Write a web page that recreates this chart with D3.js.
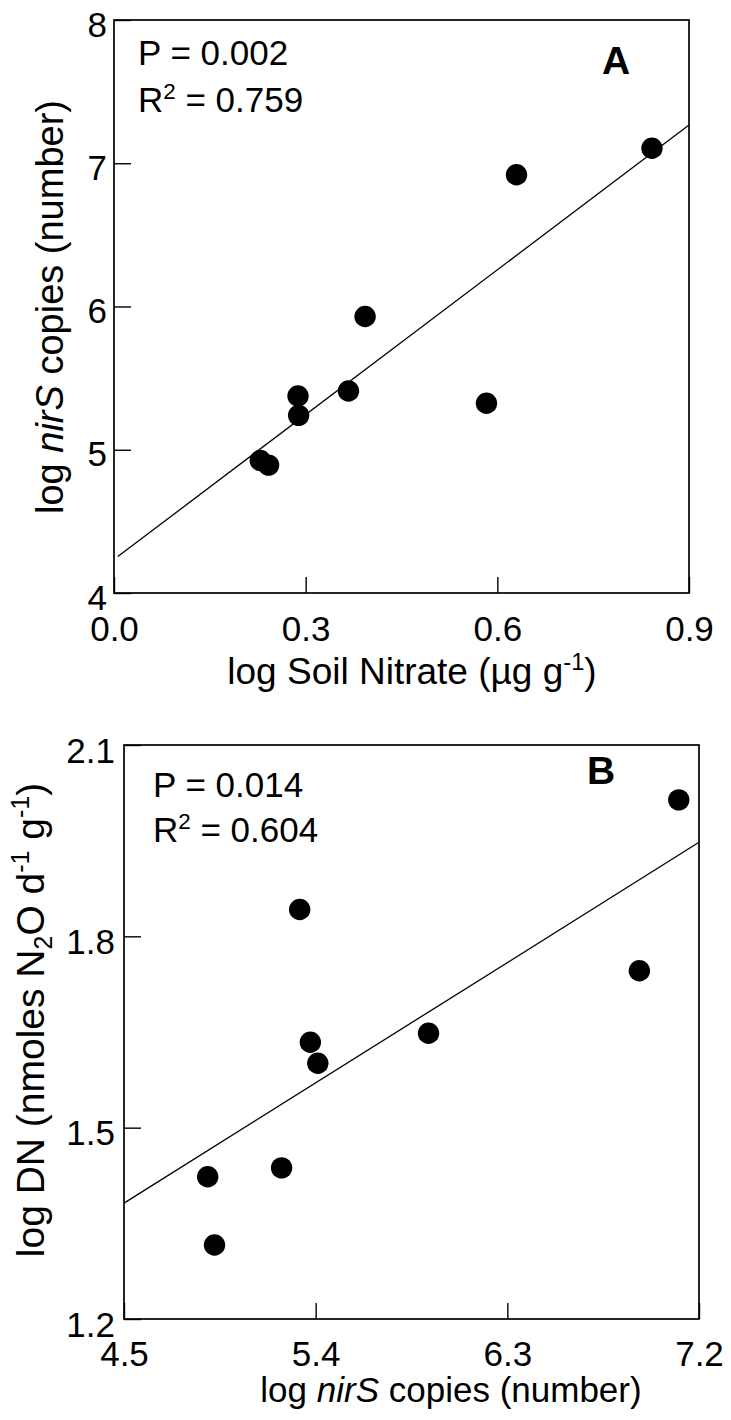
<!DOCTYPE html>
<html><head><meta charset="utf-8">
<script src="https://cdn.jsdelivr.net/npm/d3@7"></script>
<style>body{margin:0;background:#fff}svg{display:block}</style>
</head><body>
<svg id="c" width="731" height="1420"></svg>
<script>
// ---- data ----
const nirS    = [7.105, 6.92, 5.93, 5.41, 5.375, 5.24, 5.325, 4.925, 4.893];
const nitrate = [0.842, 0.630, 0.393, 0.367, 0.288, 0.289, 0.583, 0.229, 0.242];
const dn      = [2.014, 1.746, 1.648, 1.601, 1.634, 1.437, 1.842, 1.316, 1.423];
const xTicksA = [0.0, 0.3, 0.6, 0.9];
const yTicksA = [4, 5, 6, 7, 8];
const xTicksB = [4.5, 5.4, 6.3, 7.2];
const yTicksB = [1.2, 1.5, 1.8, 2.1];
const pValues = ["0.002", "0.014"];
const r2Values = ["0.759", "0.604"];
const panelLetters = ["A", "B"];

const FONT = "'Liberation Sans', Arial, Helvetica, sans-serif";
const svg = d3.select("#c");
svg.append("rect").attr("width", 731).attr("height", 1420).attr("fill", "#fff");

function fit(xs, ys) {
  const mx = d3.mean(xs), my = d3.mean(ys);
  let sxy = 0, sxx = 0;
  xs.forEach((x, i) => { sxy += (x - mx) * (ys[i] - my); sxx += (x - mx) * (x - mx); });
  const b = sxy / sxx;
  return { a: my - b * mx, b };
}

function addRich(sel, parts, size) {
  let shift = 0;
  parts.forEach(([t, s]) => {
    const ts = sel.append("tspan").text(t);
    let target = 0;
    if (s === "sup") { ts.attr("font-size", size * 0.64); target = -size * 0.38; }
    if (s === "sub") { ts.attr("font-size", size * 0.64); target = size * 0.2; }
    if (s === "i") ts.attr("font-style", "italic");
    if (target !== shift) { ts.attr("dy", target - shift); shift = target; }
  });
}

function panel(cfg) {
  const g = svg.append("g");
  const x = d3.scaleLinear().domain(cfg.xDomain).range([cfg.left, cfg.right]);
  const y = d3.scaleLinear().domain(cfg.yDomain).range([cfg.bottom, cfg.top]);
  const fs = 35;

  // regression line
  const f = fit(cfg.xs, cfg.ys);
  const lx = [cfg.xDomain[0] + cfg.lineInset, cfg.xDomain[1]];
  g.append("line")
    .attr("x1", x(lx[0])).attr("y1", y(f.a + f.b * lx[0]))
    .attr("x2", x(lx[1])).attr("y2", y(f.a + f.b * lx[1]))
    .attr("stroke", "#000").attr("stroke-width", 1.3);

  // points
  g.selectAll("circle.pt").data(cfg.xs.map((v, i) => [v, cfg.ys[i]])).enter()
    .append("circle").attr("class", "pt")
    .attr("cx", d => x(d[0])).attr("cy", d => y(d[1])).attr("r", 10.7).attr("fill", "#000");

  // frame
  g.append("rect").attr("x", cfg.left).attr("y", cfg.top)
    .attr("width", cfg.right - cfg.left).attr("height", cfg.bottom - cfg.top)
    .attr("fill", "none").attr("stroke", "#000").attr("stroke-width", 1.7);

  // axes (inward ticks)
  const xa = d3.axisBottom(x).tickValues(cfg.xTicks).tickFormat(d3.format(cfg.xFmt))
    .tickSizeInner(-16).tickSizeOuter(0).tickPadding(30);
  const ya = d3.axisLeft(y).tickValues(cfg.yTicks).tickFormat(d3.format(cfg.yFmt))
    .tickSizeInner(-17).tickSizeOuter(0).tickPadding(cfg.yPad);
  const gx = g.append("g").attr("transform", `translate(0,${cfg.bottom})`).call(xa);
  const gy = g.append("g").attr("transform", `translate(${cfg.left},0)`).call(ya);
  [gx, gy].forEach(a => {
    a.select(".domain").remove();
    a.selectAll("line").attr("stroke", "#000").attr("stroke-width", 1.4);
    a.selectAll("text").attr("font-family", FONT).attr("font-size", fs).attr("fill", "#000");
  });
  gx.selectAll("text").attr("dy", null).attr("y", cfg.xLabBase);
  gy.selectAll("text").attr("dy", null).attr("y", cfg.yLabShift);

  // x title
  const xt = g.append("text").attr("x", cfg.xTitle[0]).attr("y", cfg.xTitle[1])
    .attr("text-anchor", "middle").attr("font-family", FONT).attr("font-size", cfg.xTitleSize);
  addRich(xt, cfg.xTitleParts, cfg.xTitleSize);
  // y title
  const yt = g.append("text").attr("transform", `translate(${cfg.yTitle[0]},${cfg.yTitle[1]}) rotate(-90)`)
    .attr("text-anchor", "middle").attr("font-family", FONT).attr("font-size", cfg.yTitleSize);
  addRich(yt, cfg.yTitleParts, cfg.yTitleSize);

  // stats
  g.append("text").attr("x", cfg.stat[0]).attr("y", cfg.stat[1])
    .attr("font-family", FONT).attr("font-size", fs).text("P = " + cfg.p);
  const r = g.append("text").attr("x", cfg.stat[0]).attr("y", cfg.stat[2])
    .attr("font-family", FONT).attr("font-size", fs);
  addRich(r, [["R", ""], ["2", "sup"], [" = " + cfg.r2, ""]], fs);
  // panel letter
  g.append("text").attr("x", cfg.letter[0]).attr("y", cfg.letter[1])
    .attr("text-anchor", "middle").attr("font-family", FONT).attr("font-weight", "bold")
    .attr("font-size", 39).text(cfg.letterText);
}

panel({
  left: 114, right: 689, top: 20, bottom: 593,
  xDomain: [0, 0.9], yDomain: [4, 8], xs: nitrate, ys: nirS, lineInset: 0.006,
  xTicks: xTicksA, yTicks: yTicksA, xFmt: ".1f", yFmt: "d", yPad: 7,
  xLabBase: 48, yLabShift: 16,
  xTitle: [412, 684], xTitleSize: 37,
  xTitleParts: [["log Soil Nitrate (µg g", ""], ["-1", "sup"], [")", ""]],
  yTitle: [63, 307], yTitleSize: 38,
  yTitleParts: [["log ", ""], ["nirS", "i"], [" copies (number)", ""]],
  stat: [138, 65, 112], p: pValues[0], r2: r2Values[0],
  letter: [616, 74], letterText: panelLetters[0]
});

panel({
  left: 124, right: 699, top: 745, bottom: 1319,
  xDomain: [4.5, 7.2], yDomain: [1.2, 2.1], xs: nirS, ys: dn, lineInset: 0,
  xTicks: xTicksB, yTicks: yTicksB, xFmt: ".1f", yFmt: ".1f", yPad: 9,
  xLabBase: 47, yLabShift: 17,
  xTitle: [451, 1402], xTitleSize: 35,
  xTitleParts: [["log ", ""], ["nirS", "i"], [" copies (number)", ""]],
  yTitle: [44, 1020], yTitleSize: 39,
  yTitleParts: [["log DN (nmoles N", ""], ["2", "sub"], ["O d", ""], ["-1", "sup"], [" g", ""], ["-1", "sup"], [")", ""]],
  stat: [153, 797, 842], p: pValues[1], r2: r2Values[1],
  letter: [601, 784], letterText: panelLetters[1]
});
</script>
</body></html>
